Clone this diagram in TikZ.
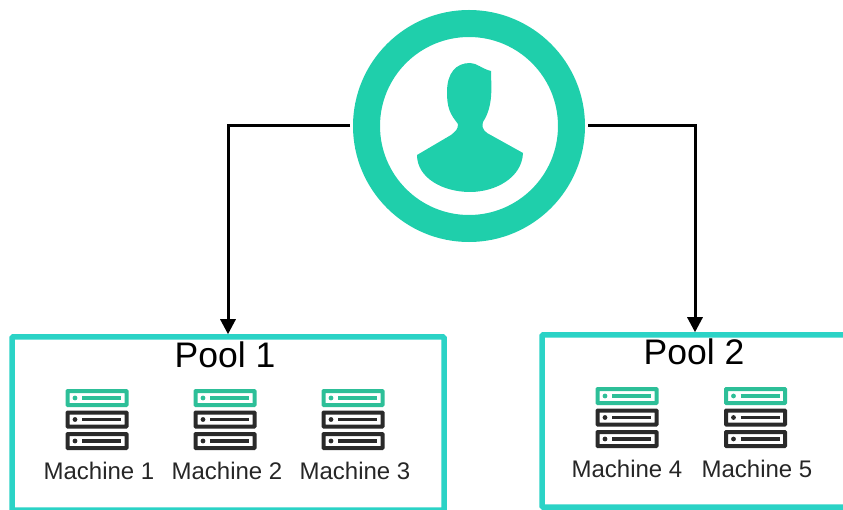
\documentclass[tikz,border=0pt]{standalone}
\usepackage{fontspec}
\setmainfont{Liberation Sans}
\usetikzlibrary{positioning, arrows.meta}

\definecolor{usergreen}{HTML}{1FCFAB}
\definecolor{poolcyan}{HTML}{2BD3C6}
\definecolor{unitgreen}{HTML}{2DBF98}
\definecolor{unitblack}{HTML}{2A2A2A}

\begin{document}
\begin{tikzpicture}[x=1pt,y=-1pt]

        % Setup the styles
        \tikzset{user style/.style={circle, draw=usergreen, line width=27pt,
                                    minimum size=205pt, inner sep=0pt},
                 pool style/.style={rectangle, draw=poolcyan, line width=5.5pt,
                                    rounded corners=1pt, inner sep=0pt},
                 pool label/.style={font=\fontsize{35.5}{36}\selectfont, inner sep=0pt},
                 machine label/.style={font=\fontsize{24}{24}\selectfont, text=black!85,
                                       inner sep=0pt},
                 link/.style={line width=3pt, -{Triangle[length=15pt,width=15pt]}, shorten <=3pt},
                 unit/.pic={
                     \draw[#1, line width=4pt, rounded corners=0.5pt] (-29.5,-7) rectangle (29.5,7);
                     \fill[#1] (-22,0) circle (2.4pt);
                     \draw[#1, line width=3.4pt] (-15,0) -- (24,0);
                 },
                 rack/.pic={
                     \pic at (0,-21.5) {unit=unitgreen};
                     \pic at (0,0) {unit=unitblack};
                     \pic at (0,21.5) {unit=unitblack};
                 }}

\useasboundingbox (0,0) rectangle (843,510);

% Add the user
\node[user style] at (469,126) (user) {};
\fill[usergreen] (458,124) .. controls (450,114) and (447,108) .. (447,92)
    .. controls (447,73) and (456,63) .. (470,63)
    .. controls (477,63) and (482,69) .. (491,71)
    .. controls (491,85) and (494,105) .. (483,122)
    .. controls (482,126) and (482,129) .. (487,133)
    -- (523,153)
    .. controls (522,178) and (495,192) .. (470,192)
    .. controls (443,192) and (417,178) .. (417,155)
    -- (451,135)
    .. controls (456,131) and (458,129) .. (458,124) -- cycle;

% Add the pools
\node[pool style, minimum width=432pt, minimum height=173pt] at (228,423.5) (pool1) {};
\node[pool style, minimum width=306pt, minimum height=172pt] at (695,421) (pool2) {};
\node[pool label] at (225,355) (label1) {Pool 1};
\node[pool label] at (694,352) (label2) {Pool 2};

% Add the machines
\foreach \name/\xpos/\ypos/\txt/\lab in {m1/97/419.5/99/1, m2/225/419.5/227/2, m3/353/419.5/355/3,
                                         m4/627/417.5/627/4, m5/755.5/417.5/757/5} {
    \pic at (\xpos,\ypos) {rack};
    \node[machine label] at (\txt,\ypos+51.5) (\name) {Machine \lab};
}

\draw[link] (user.west) -| (pool1.north);
\draw[link] (user.east) -| (pool2.north);
\end{tikzpicture}
\end{document}
